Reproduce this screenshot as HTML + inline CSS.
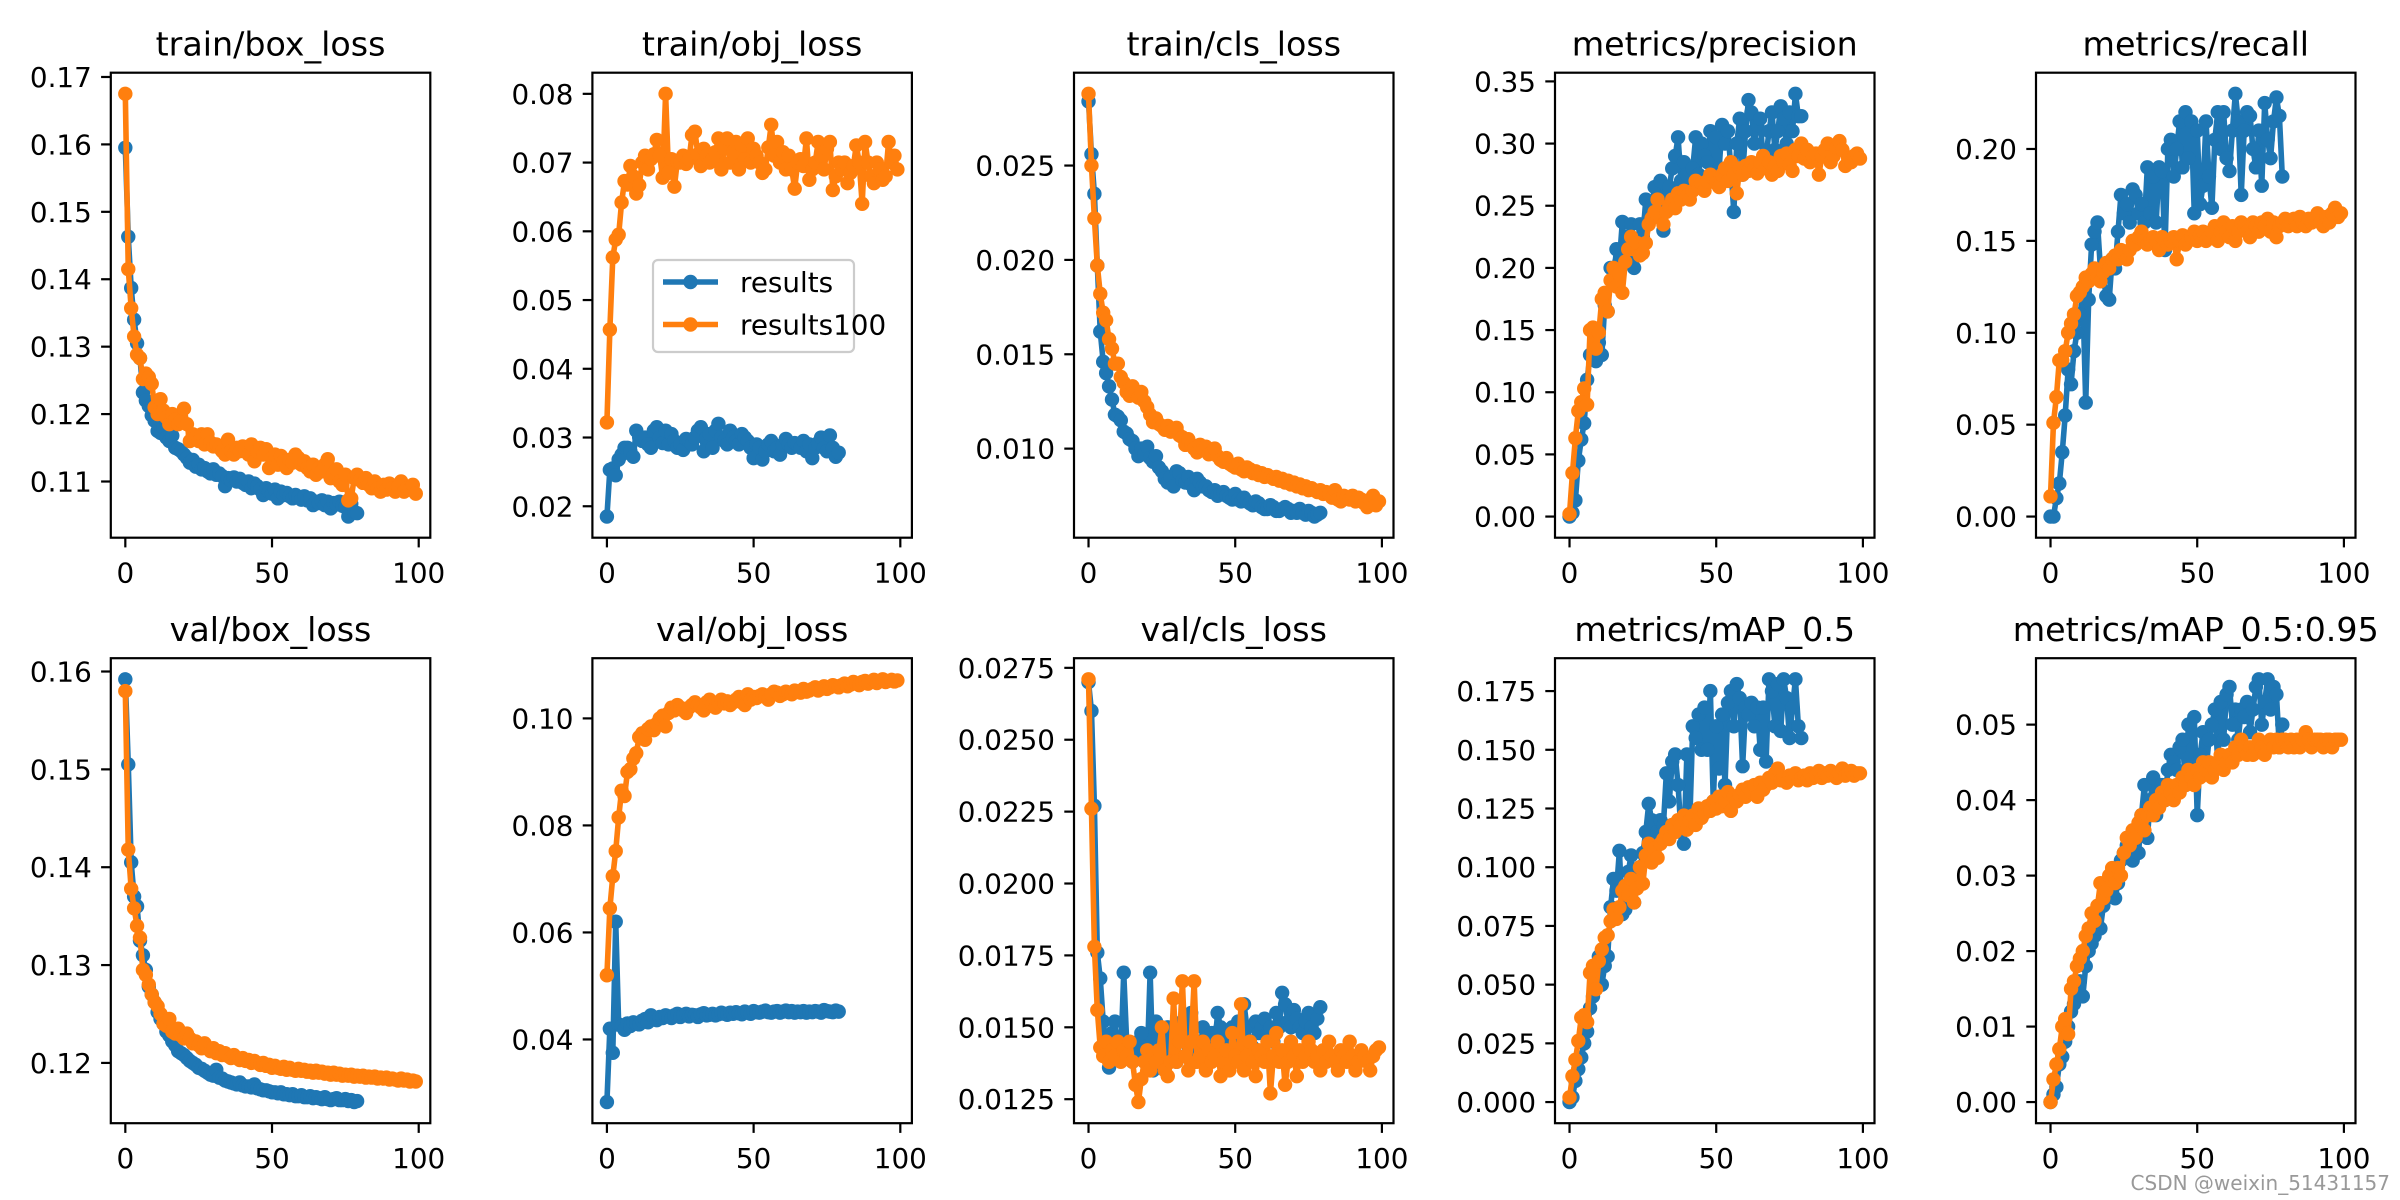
<!DOCTYPE html>
<html><head><meta charset="utf-8"><title>results</title>
<style>
html,body{margin:0;padding:0;background:#fff;}
svg{display:block;}
text{font-family:"DejaVu Sans","Liberation Sans",sans-serif;}
</style></head>
<body>
<svg id="fig" width="2400" height="1200" viewBox="0 0 2400 1200" xmlns="http://www.w3.org/2000/svg">
<rect width="2400" height="1200" fill="#fff"/>
<text x="2390" y="1190" font-size="20" fill="#999" text-anchor="end">CSDN @weixin_51431157</text>
</svg>
<script>
const titles = ["train/box_loss","train/obj_loss","train/cls_loss","metrics/precision","metrics/recall","val/box_loss","val/obj_loss","val/cls_loss","metrics/mAP_0.5","metrics/mAP_0.5:0.95"];
const seriesNames = ["results","results100"];
const tick0 = [0.11,0.12,0.13,0.14,0.15,0.16,0.17];
const tick1 = [0.02,0.03,0.04,0.05,0.06,0.07,0.08];
const tick2 = [0.010,0.015,0.020,0.025];
const tick3 = [0,0.05,0.10,0.15,0.20,0.25,0.30,0.35];
const tick4 = [0,0.05,0.10,0.15,0.20];
const tick5 = [0.12,0.13,0.14,0.15,0.16];
const tick6 = [0.04,0.06,0.08,0.10];
const tick7 = [0.0125,0.0150,0.0175,0.0200,0.0225,0.0250,0.0275];
const tick8 = [0,0.025,0.05,0.075,0.1,0.125,0.15,0.175];
const tick9 = [0,0.01,0.02,0.03,0.04,0.05];
const tickLabels0 = ["0.11","0.12","0.13","0.14","0.15","0.16","0.17"];
const tickLabels1 = ["0.02","0.03","0.04","0.05","0.06","0.07","0.08"];
const tickLabels2 = ["0.010","0.015","0.020","0.025"];
const tickLabels3 = ["0.00","0.05","0.10","0.15","0.20","0.25","0.30","0.35"];
const tickLabels4 = ["0.00","0.05","0.10","0.15","0.20"];
const tickLabels5 = ["0.12","0.13","0.14","0.15","0.16"];
const tickLabels6 = ["0.04","0.06","0.08","0.10"];
const tickLabels7 = ["0.0125","0.0150","0.0175","0.0200","0.0225","0.0250","0.0275"];
const tickLabels8 = ["0.000","0.025","0.050","0.075","0.100","0.125","0.150","0.175"];
const tickLabels9 = ["0.00","0.01","0.02","0.03","0.04","0.05"];
const xTicks = [0,50,100];

const boxB=[0.1595,0.1463,0.1387,0.1340,0.1305,0.1283,0.1232,0.1220,0.1212,0.1198,0.1190,0.1175,0.1172,0.1180,0.1165,0.1160,0.1168,0.1150,0.1148,0.1145,0.1140,0.1135,0.1128,0.1132,0.1122,0.1125,0.1118,0.1120,0.1115,0.1112,0.1118,0.1110,0.1112,0.1108,0.1093,0.1105,0.1102,0.1106,0.1100,0.1104,0.1098,0.1095,0.1100,0.1090,0.1097,0.1093,0.1088,0.1080,0.1090,0.1085,0.1082,0.1088,0.1075,0.1085,0.1080,0.1083,0.1078,0.1075,0.1080,0.1077,0.1073,0.1078,0.1072,0.1075,0.1065,0.1070,0.1068,0.1072,0.1065,0.1070,0.1060,0.1068,0.1066,0.1070,0.1064,0.1062,0.1048,0.1067,0.1055,0.1053];
const boxO=[0.1675,0.1415,0.1357,0.1315,0.1288,0.1283,0.1252,0.1260,0.1255,0.1245,0.1210,0.1200,0.1222,0.1205,0.1195,0.1185,0.1200,0.1192,0.1185,0.1190,0.1208,0.1185,0.1160,0.1170,0.1165,0.1160,0.1170,0.1155,0.1170,0.1158,0.1152,0.1155,0.1150,0.1145,0.1140,0.1162,0.1145,0.1140,0.1150,0.1145,0.1152,0.1148,0.1140,0.1155,0.1130,0.1145,0.1150,0.1140,0.1148,0.1120,0.1135,0.1140,0.1125,0.1138,0.1130,0.1120,0.1132,0.1128,0.1140,0.1135,0.1125,0.1130,0.1120,0.1115,0.1125,0.1110,0.1120,0.1115,0.1125,0.1133,0.1105,0.1112,0.1118,0.1100,0.1095,0.1110,0.1072,0.1075,0.1105,0.1110,0.1102,0.1098,0.1105,0.1095,0.1090,0.1100,0.1090,0.1085,0.1095,0.1088,0.1097,0.1090,0.1085,0.1092,0.1100,0.1085,0.1090,0.1088,0.1095,0.1082];
const objB=[0.0185,0.0253,0.0255,0.0245,0.0268,0.0275,0.0285,0.0285,0.0280,0.0272,0.0310,0.0300,0.0295,0.0300,0.0290,0.0285,0.0310,0.0315,0.0300,0.0292,0.0310,0.0290,0.0305,0.0295,0.0285,0.0290,0.0282,0.0298,0.0295,0.0290,0.0300,0.0310,0.0315,0.0280,0.0300,0.0305,0.0285,0.0310,0.0320,0.0300,0.0295,0.0290,0.0310,0.0300,0.0295,0.0290,0.0305,0.0300,0.0295,0.0285,0.0270,0.0290,0.0285,0.0268,0.0280,0.0290,0.0295,0.0280,0.0285,0.0275,0.0290,0.0298,0.0290,0.0285,0.0292,0.0290,0.0285,0.0295,0.0280,0.0290,0.0270,0.0285,0.0292,0.0300,0.0285,0.0280,0.0303,0.0285,0.0272,0.0278];
const objO=[0.0322,0.0457,0.0562,0.0588,0.0595,0.0642,0.0673,0.0668,0.0695,0.0680,0.0655,0.0667,0.0700,0.0710,0.0690,0.0705,0.0712,0.0733,0.0710,0.0678,0.0800,0.0685,0.0705,0.0665,0.0702,0.0700,0.0710,0.0698,0.0705,0.0740,0.0745,0.0712,0.0695,0.0720,0.0710,0.0700,0.0705,0.0715,0.0735,0.0690,0.0720,0.0735,0.0700,0.0715,0.0730,0.0690,0.0725,0.0705,0.0735,0.0700,0.0720,0.0710,0.0700,0.0685,0.0690,0.0722,0.0755,0.0710,0.0730,0.0700,0.0715,0.0690,0.0710,0.0690,0.0662,0.0700,0.0705,0.0695,0.0735,0.0675,0.0690,0.0700,0.0730,0.0710,0.0690,0.0720,0.0730,0.0660,0.0680,0.0700,0.0690,0.0700,0.0670,0.0685,0.0695,0.0725,0.0700,0.0640,0.0730,0.0700,0.0680,0.0670,0.0700,0.0690,0.0675,0.0680,0.0730,0.0700,0.0710,0.0690];
const clsB=[0.0284,0.0256,0.0235,0.0197,0.0162,0.0146,0.0140,0.0133,0.0126,0.0118,0.0117,0.0115,0.0109,0.0108,0.0105,0.0104,0.0100,0.0096,0.0100,0.0097,0.0101,0.0095,0.0093,0.0096,0.0090,0.0088,0.0084,0.0082,0.0085,0.0080,0.0088,0.0087,0.0083,0.0082,0.0085,0.0081,0.0078,0.0084,0.0082,0.0080,0.0080,0.0078,0.0077,0.0078,0.0075,0.0076,0.0077,0.0075,0.0074,0.0073,0.0076,0.0073,0.0072,0.0074,0.0072,0.0071,0.0070,0.0072,0.0071,0.0069,0.0068,0.0068,0.0070,0.0069,0.0067,0.0067,0.0068,0.0069,0.0068,0.0066,0.0067,0.0066,0.0068,0.0066,0.0065,0.0067,0.0066,0.0064,0.0065,0.0066];
const clsO=[0.0288,0.0250,0.0222,0.0197,0.0182,0.0172,0.0168,0.0158,0.0153,0.0145,0.0145,0.0138,0.0135,0.0130,0.0128,0.0133,0.0130,0.0127,0.0130,0.0125,0.0122,0.0118,0.0114,0.0116,0.0113,0.0112,0.0110,0.0112,0.0109,0.0110,0.0111,0.0107,0.0106,0.0102,0.0105,0.0102,0.0100,0.0098,0.0102,0.0100,0.0101,0.0097,0.0098,0.0100,0.0096,0.0094,0.0093,0.0095,0.0092,0.0091,0.0090,0.0092,0.0089,0.0088,0.0090,0.0089,0.0087,0.0088,0.0086,0.0087,0.0085,0.0086,0.0085,0.0084,0.0085,0.0083,0.0084,0.0082,0.0083,0.0081,0.0082,0.0080,0.0081,0.0079,0.0080,0.0078,0.0079,0.0078,0.0077,0.0078,0.0076,0.0077,0.0076,0.0074,0.0078,0.0073,0.0072,0.0075,0.0074,0.0073,0.0075,0.0072,0.0074,0.0073,0.0071,0.0069,0.0073,0.0075,0.0070,0.0072];
const precB=[0.000,0.003,0.013,0.045,0.062,0.075,0.110,0.130,0.150,0.125,0.140,0.130,0.170,0.165,0.200,0.190,0.215,0.205,0.237,0.210,0.225,0.235,0.200,0.215,0.235,0.225,0.255,0.240,0.250,0.265,0.255,0.270,0.230,0.260,0.265,0.280,0.290,0.305,0.270,0.285,0.275,0.260,0.280,0.305,0.275,0.300,0.290,0.285,0.310,0.270,0.305,0.280,0.315,0.300,0.310,0.280,0.245,0.300,0.320,0.275,0.310,0.335,0.325,0.300,0.315,0.320,0.285,0.290,0.310,0.325,0.295,0.310,0.330,0.320,0.300,0.325,0.310,0.340,0.322,0.322];
const precO=[0.002,0.035,0.063,0.085,0.092,0.103,0.090,0.150,0.152,0.135,0.148,0.175,0.180,0.165,0.190,0.200,0.185,0.195,0.180,0.205,0.215,0.225,0.215,0.220,0.210,0.212,0.220,0.235,0.240,0.245,0.255,0.240,0.235,0.245,0.250,0.255,0.248,0.260,0.255,0.262,0.258,0.255,0.262,0.270,0.265,0.268,0.262,0.270,0.275,0.272,0.268,0.265,0.275,0.280,0.270,0.285,0.275,0.260,0.280,0.275,0.282,0.278,0.285,0.280,0.276,0.285,0.290,0.280,0.285,0.275,0.282,0.278,0.290,0.285,0.292,0.283,0.278,0.295,0.290,0.300,0.288,0.295,0.285,0.290,0.292,0.275,0.290,0.295,0.300,0.285,0.290,0.297,0.302,0.295,0.282,0.288,0.285,0.290,0.292,0.288];
const recB=[0.000,0.000,0.010,0.018,0.035,0.055,0.080,0.072,0.090,0.100,0.110,0.120,0.062,0.118,0.148,0.155,0.160,0.135,0.130,0.120,0.118,0.140,0.135,0.155,0.175,0.165,0.170,0.160,0.178,0.175,0.165,0.170,0.160,0.190,0.165,0.185,0.160,0.190,0.188,0.145,0.200,0.205,0.185,0.200,0.215,0.190,0.220,0.195,0.215,0.165,0.210,0.170,0.180,0.215,0.185,0.168,0.205,0.220,0.200,0.220,0.195,0.188,0.210,0.230,0.215,0.175,0.210,0.220,0.218,0.200,0.190,0.210,0.180,0.225,0.205,0.195,0.215,0.228,0.218,0.185];
const recO=[0.011,0.051,0.065,0.085,0.085,0.090,0.100,0.105,0.110,0.120,0.122,0.125,0.130,0.128,0.132,0.135,0.130,0.128,0.133,0.138,0.135,0.140,0.142,0.140,0.145,0.143,0.140,0.145,0.150,0.148,0.152,0.155,0.150,0.148,0.150,0.152,0.150,0.145,0.152,0.150,0.148,0.150,0.152,0.140,0.150,0.153,0.148,0.150,0.152,0.155,0.150,0.153,0.155,0.150,0.152,0.155,0.158,0.150,0.155,0.160,0.155,0.152,0.158,0.150,0.155,0.160,0.158,0.155,0.152,0.160,0.158,0.155,0.160,0.158,0.162,0.155,0.160,0.152,0.158,0.160,0.162,0.158,0.160,0.162,0.158,0.163,0.160,0.158,0.162,0.160,0.162,0.165,0.160,0.158,0.163,0.160,0.165,0.168,0.163,0.165];
const vboxB=[0.1592,0.1505,0.1405,0.1370,0.1360,0.1325,0.1310,0.1295,0.1278,0.1270,0.1262,0.1252,0.1245,0.1240,0.1232,0.1228,0.1222,0.1218,0.1212,0.1210,0.1208,0.1205,0.1202,0.1200,0.1198,0.1195,0.1194,0.1192,0.1190,0.1188,0.1187,0.1193,0.1185,0.1184,0.1182,0.1181,0.1180,0.1179,0.1178,0.1180,0.1177,0.1176,0.1176,0.1175,0.1178,0.1174,0.1173,0.1172,0.1172,0.1171,0.1170,0.1170,0.1169,0.1170,0.1168,0.1168,0.1167,0.1168,0.1166,0.1166,0.1167,0.1165,0.1165,0.1166,0.1164,0.1165,0.1164,0.1163,0.1165,0.1163,0.1162,0.1163,0.1164,0.1162,0.1162,0.1163,0.1161,0.1162,0.1160,0.1161];
const vboxO=[0.1580,0.1418,0.1378,0.1358,0.1340,0.1328,0.1295,0.1290,0.1280,0.1270,0.1262,0.1258,0.1250,0.1240,0.1238,0.1245,0.1232,0.1230,0.1235,0.1228,0.1225,0.1230,0.1225,0.1220,0.1222,0.1218,0.1215,0.1220,0.1215,0.1212,0.1215,0.1210,0.1212,0.1208,0.1210,0.1207,0.1205,0.1208,0.1205,0.1203,0.1205,0.1202,0.1203,0.1200,0.1202,0.1200,0.1198,0.1200,0.1197,0.1198,0.1195,0.1197,0.1195,0.1194,0.1196,0.1193,0.1195,0.1193,0.1192,0.1194,0.1192,0.1193,0.1191,0.1192,0.1190,0.1192,0.1190,0.1191,0.1189,0.1190,0.1188,0.1190,0.1188,0.1189,0.1187,0.1188,0.1187,0.1188,0.1186,0.1187,0.1186,0.1187,0.1185,0.1186,0.1185,0.1186,0.1184,0.1185,0.1184,0.1185,0.1183,0.1184,0.1183,0.1182,0.1184,0.1182,0.1183,0.1181,0.1182,0.1181];
const vobjB=[0.0283,0.0420,0.0375,0.0620,0.0428,0.0425,0.0418,0.0430,0.0425,0.0432,0.0430,0.0428,0.0435,0.0438,0.0432,0.0445,0.0440,0.0436,0.0442,0.0440,0.0445,0.0443,0.0440,0.0445,0.0448,0.0442,0.0445,0.0448,0.0443,0.0446,0.0445,0.0442,0.0447,0.0449,0.0445,0.0446,0.0448,0.0445,0.0447,0.0450,0.0448,0.0446,0.0450,0.0448,0.0451,0.0449,0.0447,0.0452,0.0450,0.0448,0.0453,0.0451,0.0450,0.0452,0.0454,0.0451,0.0450,0.0452,0.0453,0.0450,0.0452,0.0454,0.0451,0.0453,0.0450,0.0452,0.0451,0.0453,0.0450,0.0452,0.0451,0.0453,0.0452,0.0450,0.0455,0.0453,0.0452,0.0451,0.0454,0.0452];
const vobjO=[0.0520,0.0645,0.0705,0.0752,0.0815,0.0865,0.0855,0.0900,0.0905,0.0925,0.0935,0.0965,0.0972,0.0960,0.0980,0.0985,0.0978,0.0990,0.1000,0.1005,0.0985,0.1010,0.1020,0.1015,0.1025,0.1020,0.1015,0.1010,0.1020,0.1025,0.1030,0.1025,0.1020,0.1015,0.1030,0.1035,0.1025,0.1020,0.1030,0.1035,0.1028,0.1032,0.1025,0.1030,0.1035,0.1040,0.1030,0.1025,0.1045,0.1035,0.1040,0.1038,0.1042,0.1045,0.1040,0.1035,0.1045,0.1050,0.1048,0.1042,0.1045,0.1050,0.1048,0.1045,0.1052,0.1050,0.1048,0.1055,0.1050,0.1052,0.1055,0.1058,0.1052,0.1055,0.1060,0.1055,0.1058,0.1062,0.1060,0.1058,0.1062,0.1065,0.1060,0.1063,0.1068,0.1065,0.1062,0.1068,0.1070,0.1065,0.1068,0.1072,0.1066,0.1070,0.1073,0.1068,0.1070,0.1072,0.1069,0.1071];
const vclsB=[0.0270,0.0260,0.0227,0.0176,0.0167,0.0152,0.0142,0.0136,0.0148,0.0152,0.0144,0.0140,0.0169,0.0145,0.0142,0.0138,0.0140,0.0145,0.0148,0.0142,0.0138,0.0169,0.0135,0.0152,0.0140,0.0138,0.0145,0.0150,0.0142,0.0150,0.0138,0.0145,0.0152,0.0140,0.0148,0.0155,0.0138,0.0145,0.0142,0.0150,0.0145,0.0140,0.0148,0.0143,0.0155,0.0150,0.0147,0.0142,0.0148,0.0150,0.0145,0.0152,0.0148,0.0158,0.0150,0.0145,0.0143,0.0152,0.0148,0.0150,0.0153,0.0148,0.0150,0.0145,0.0155,0.0150,0.0162,0.0158,0.0152,0.0150,0.0156,0.0153,0.0150,0.0148,0.0152,0.0155,0.0150,0.0148,0.0153,0.0157];
const vclsO=[0.0271,0.0226,0.0178,0.0156,0.0143,0.0140,0.0145,0.0138,0.0142,0.0140,0.0145,0.0138,0.0142,0.0140,0.0145,0.0138,0.0130,0.0124,0.0132,0.0138,0.0142,0.0135,0.0140,0.0138,0.0142,0.0150,0.0135,0.0133,0.0138,0.0160,0.0138,0.0145,0.0166,0.0140,0.0135,0.0145,0.0166,0.0138,0.0140,0.0145,0.0135,0.0142,0.0138,0.0140,0.0145,0.0133,0.0138,0.0142,0.0135,0.0148,0.0140,0.0138,0.0158,0.0135,0.0140,0.0145,0.0138,0.0133,0.0142,0.0140,0.0138,0.0145,0.0127,0.0140,0.0148,0.0138,0.0142,0.0130,0.0138,0.0145,0.0140,0.0133,0.0142,0.0138,0.0140,0.0145,0.0142,0.0138,0.0140,0.0135,0.0142,0.0138,0.0145,0.0140,0.0138,0.0135,0.0142,0.0140,0.0138,0.0145,0.0140,0.0135,0.0138,0.0142,0.0140,0.0138,0.0135,0.0140,0.0142,0.0143];
const map5B=[0.000,0.002,0.009,0.014,0.019,0.025,0.030,0.040,0.045,0.055,0.062,0.050,0.058,0.062,0.083,0.095,0.090,0.107,0.080,0.082,0.098,0.105,0.085,0.095,0.100,0.106,0.115,0.127,0.120,0.112,0.115,0.120,0.118,0.140,0.128,0.145,0.148,0.135,0.115,0.110,0.148,0.120,0.160,0.155,0.165,0.150,0.168,0.150,0.175,0.128,0.160,0.142,0.165,0.135,0.170,0.175,0.160,0.178,0.172,0.143,0.168,0.165,0.170,0.160,0.168,0.150,0.168,0.145,0.180,0.175,0.160,0.178,0.158,0.180,0.172,0.155,0.168,0.180,0.160,0.155];
const map5O=[0.002,0.011,0.018,0.026,0.036,0.037,0.034,0.055,0.058,0.048,0.060,0.065,0.070,0.071,0.077,0.082,0.078,0.083,0.090,0.092,0.088,0.095,0.085,0.091,0.100,0.093,0.105,0.110,0.102,0.108,0.104,0.110,0.112,0.115,0.112,0.118,0.115,0.120,0.118,0.122,0.116,0.120,0.122,0.118,0.125,0.121,0.123,0.126,0.124,0.128,0.125,0.130,0.126,0.128,0.132,0.124,0.130,0.128,0.131,0.133,0.130,0.134,0.132,0.135,0.130,0.136,0.133,0.135,0.138,0.136,0.140,0.142,0.137,0.138,0.136,0.139,0.138,0.140,0.137,0.138,0.139,0.137,0.140,0.138,0.139,0.141,0.138,0.140,0.139,0.141,0.140,0.138,0.140,0.142,0.139,0.140,0.141,0.139,0.140,0.140];
const map95B=[0.000,0.001,0.002,0.005,0.006,0.008,0.010,0.012,0.013,0.015,0.016,0.014,0.018,0.020,0.021,0.022,0.025,0.023,0.026,0.027,0.028,0.030,0.027,0.029,0.032,0.033,0.034,0.035,0.032,0.036,0.033,0.038,0.042,0.035,0.040,0.043,0.038,0.041,0.042,0.040,0.044,0.046,0.045,0.044,0.047,0.048,0.042,0.050,0.044,0.051,0.038,0.046,0.049,0.044,0.048,0.050,0.052,0.045,0.053,0.048,0.054,0.055,0.050,0.052,0.048,0.052,0.051,0.053,0.049,0.052,0.055,0.056,0.050,0.053,0.056,0.052,0.055,0.054,0.047,0.050];
const map95O=[0.000,0.003,0.005,0.007,0.010,0.011,0.009,0.015,0.016,0.018,0.019,0.020,0.022,0.023,0.025,0.024,0.026,0.029,0.027,0.028,0.030,0.031,0.029,0.031,0.030,0.033,0.035,0.034,0.036,0.035,0.037,0.038,0.036,0.038,0.039,0.038,0.040,0.039,0.041,0.040,0.042,0.041,0.040,0.042,0.041,0.043,0.042,0.044,0.043,0.042,0.044,0.043,0.045,0.044,0.045,0.043,0.044,0.045,0.046,0.044,0.045,0.046,0.045,0.047,0.046,0.048,0.047,0.046,0.047,0.046,0.047,0.048,0.047,0.046,0.047,0.048,0.047,0.048,0.047,0.048,0.048,0.047,0.048,0.047,0.048,0.047,0.048,0.049,0.048,0.047,0.048,0.048,0.048,0.047,0.048,0.048,0.047,0.048,0.048,0.048];

const panels = [
 {t:titles[0],b:boxB,o:boxO,ticks:tick0,labels:tickLabels0},
 {t:titles[1],b:objB,o:objO,ticks:tick1,labels:tickLabels1},
 {t:titles[2],b:clsB,o:clsO,ticks:tick2,labels:tickLabels2},
 {t:titles[3],b:precB,o:precO,ticks:tick3,labels:tickLabels3},
 {t:titles[4],b:recB,o:recO,ticks:tick4,labels:tickLabels4},
 {t:titles[5],b:vboxB,o:vboxO,ticks:tick5,labels:tickLabels5},
 {t:titles[6],b:vobjB,o:vobjO,ticks:tick6,labels:tickLabels6},
 {t:titles[7],b:vclsB,o:vclsO,ticks:tick7,labels:tickLabels7},
 {t:titles[8],b:map5B,o:map5O,ticks:tick8,labels:tickLabels8},
 {t:titles[9],b:map95B,o:map95O,ticks:tick9,labels:tickLabels9}
];

const NS="http://www.w3.org/2000/svg";
const svg=document.getElementById('fig');
const colLeft=[110.8,592.4,1074,1555,2036], rowTop=[72.7,658.2], AW=319.5, AH=465;
const C_B="#1f77b4", C_O="#ff7f0e";
const MR=7.2;
function mk(tag,attrs,parent){const e=document.createElementNS(NS,tag);for(const k in attrs)e.setAttribute(k,attrs[k]);(parent||svg).appendChild(e);return e;}

panels.forEach((p,i)=>{
  const L=colLeft[i%5], T=rowTop[Math.floor(i/5)];
  const g=mk('g',{});
  
  
  const n=Math.max(p.b.length,p.o.length);
  const xmin=0,xmax=n-1,xr=xmax-xmin;
  const x0=xmin-0.05*xr,x1=xmax+0.05*xr;
  const all=p.b.concat(p.o);
  const ymn=Math.min(...all),ymx=Math.max(...all),yr=ymx-ymn;
  const y0=ymn-0.05*yr,y1=ymx+0.05*yr;
  const X=v=>L+(v-x0)/(x1-x0)*AW;
  const Y=v=>T+AH-(v-y0)/(y1-y0)*AH;
  const tt=mk('text',{x:L+AW/2,y:T-17,'font-size':33.3,'text-anchor':'middle',fill:'#000'},g);
  tt.textContent=p.t;
  
  
  [[p.b,C_B,seriesNames[0]],[p.o,C_O,seriesNames[1]]].forEach(([arr,col,nm])=>{
    const sg=mk('g',{},g);
    
    
    const pts=arr.map((v,k)=>X(k).toFixed(2)+','+Y(v).toFixed(2)).join(' ');
    const pl=mk('polyline',{points:pts,fill:'none',stroke:col,'stroke-width':5.6,'stroke-linejoin':'round','stroke-linecap':'square'},sg);
    
    
    arr.forEach((v,k)=>{
      const c=mk('circle',{cx:X(k).toFixed(2),cy:Y(v).toFixed(2),r:MR,fill:col},sg);
      
      
    });
  });
  const fr=mk('rect',{x:L,y:T,width:AW,height:AH,fill:'none',stroke:'#000','stroke-width':2.2},g);
  
  
  p.ticks.forEach((tv,k)=>{
    const yy=Y(tv);
    const tl=mk('line',{x1:L,x2:L-9.7,y1:yy,y2:yy,stroke:'#000','stroke-width':2.2},g);
    
    
    const tx=mk('text',{x:L-19,y:yy+10,'font-size':27.8,'text-anchor':'end',fill:'#000'},g);
    tx.textContent=p.labels[k];
    
    
  });
  xTicks.forEach(tv=>{
    const xx=X(tv);
    const tl=mk('line',{x1:xx,x2:xx,y1:T+AH,y2:T+AH+9.7,stroke:'#000','stroke-width':2.2},g);
    
    
    const tx=mk('text',{x:xx,y:T+AH+45,'font-size':27.8,'text-anchor':'middle',fill:'#000'},g);
    tx.textContent=String(tv);
    
    
  });
});

const lg=mk('g',{});


mk('rect',{x:653,y:260,width:201,height:92,rx:5,fill:'#fff','fill-opacity':0.8,stroke:'#ccc','stroke-width':2.2},lg);
[[C_B,seriesNames[0],282],[C_O,seriesNames[1],324.5]].forEach(([col,nm,yy])=>{
  const e=mk('g',{},lg);
  
  
  mk('line',{x1:663,x2:718,y1:yy,y2:yy,stroke:col,'stroke-width':5.6},e);
  mk('circle',{cx:690.5,cy:yy,r:MR,fill:col},e);
  const t=mk('text',{x:740,y:yy+10,'font-size':27.8,fill:'#000'},e);
  t.textContent=nm;
});
</script>
</body></html>
